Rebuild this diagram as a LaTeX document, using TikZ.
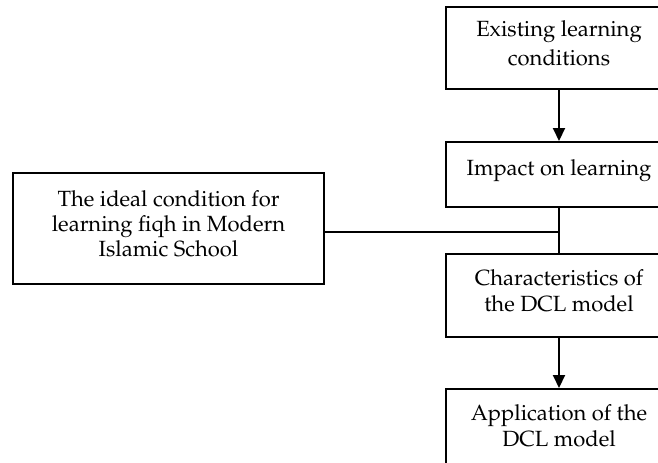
\documentclass[tikz,border=0pt]{standalone}
\usepackage[T1]{fontenc}
\usepackage{mathpazo}
\usetikzlibrary{arrows.meta}
\begin{document}
\begin{tikzpicture}[x=0.5pt,y=-0.5pt,
  box/.style={draw,line width=1pt,align=center,inner sep=0pt,text depth=5pt,
    font=\fontsize{11}{12.5}\selectfont},
  rbox/.style={box,minimum width=113pt,font=\fontsize{11}{13.3}\selectfont},
  arr/.style={line width=1pt,-{Triangle[length=6.5pt,width=6pt]}},
  lnk/.style={line width=1pt}]
\useasboundingbox (0,0) rectangle (658,462);
\clip (0,0) rectangle (658,462);
\node[rbox,minimum height=41pt,font=\fontsize{11}{14.3}\selectfont] (b1) at (559,48) {Existing learning\\conditions};
\node[rbox,minimum height=32.5pt,text depth=7.4pt] (b2) at (559,174.5) {Impact on learning};
\node[rbox,minimum height=41.5pt] (b3) at (559,295.5) {Characteristics of\\the DCL model};
\node[rbox,minimum height=41.5pt] (b4) at (559,430.5) {Application of the\\DCL model};
\node[box,minimum width=155.5pt,minimum height=55.5pt] (L) at (168.5,228.5) {The ideal condition for\\learning fiqh in Modern\\Islamic School};
\coordinate (j) at (559,232);
\draw[arr] (b1) -- (b2);
\draw[lnk] (b2) -- (b3);
\draw[lnk] (L.east |- j) -- (j);
\draw[arr] (b3) -- (b4);
\end{tikzpicture}
\end{document}
